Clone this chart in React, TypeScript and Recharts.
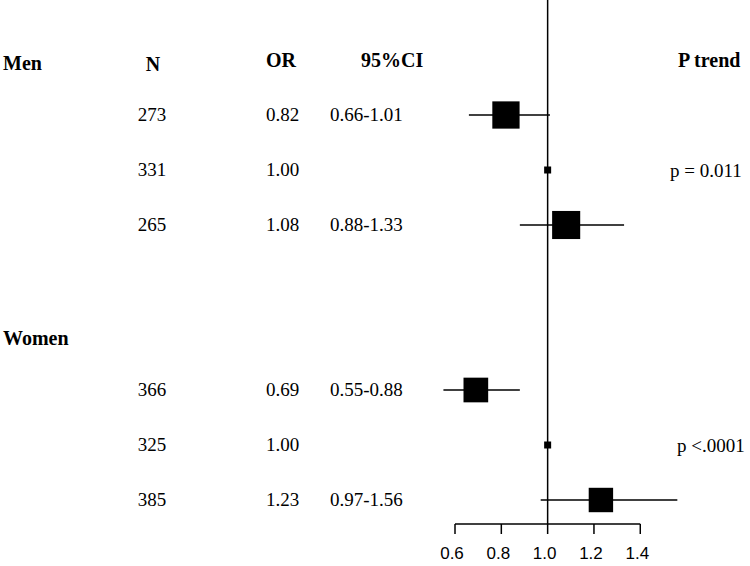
import React from 'react';
import { ScatterChart, Scatter, XAxis, YAxis, ErrorBar, ReferenceLine } from 'recharts';

// ---- data ----
const groups = ['Men', 'Women'];
const nValues = [273, 331, 265, 366, 325, 385];
const orValues = [0.82, 1.0, 1.08, 0.69, 1.0, 1.23];
const ciLow: (number | null)[] = [0.66, null, 0.88, 0.55, null, 0.97];
const ciHigh: (number | null)[] = [1.01, null, 1.33, 0.88, null, 1.56];
const pTrend = ['p = 0.011', 'p <.0001'];
const headers = ['N', 'OR', '95%CI', 'P trend'];
const xTicks = [0.6, 0.8, 1.0, 1.2, 1.4];

// ---- layout ----
const W = 750;
const H = 566;
const ROWS_PER_GROUP = 3;
const GROUP_STRIDE = 5;
const Y_MIN = -60 / 55;
const Y_MAX = 464 / 55;
const X_MIN = 0.6 - 455 / 231.6;
const X_MAX = 0.6 + 295 / 231.6;
const BOX_K = 11.6;
const REF_BOX = 7;
const SERIF = '"Liberation Serif", "Times New Roman", serif';
const SANS = '"Liberation Sans", Arial, sans-serif';

const rows = orValues.map((or, i) => {
  const g = Math.floor(i / ROWS_PER_GROUP);
  const k = i % ROWS_PER_GROUP;
  const lo = ciLow[i];
  const hi = ciHigh[i];
  return {
    x: or,
    y: g * GROUP_STRIDE + 1 + k,
    n: nValues[i],
    or,
    lo,
    hi,
    err: lo != null && hi != null ? [or - lo, hi - or] : [0, 0],
    ci: lo != null && hi != null ? `${lo.toFixed(2)}-${hi.toFixed(2)}` : '',
    box: lo != null && hi != null ? BOX_K / Math.log(hi / lo) : REF_BOX,
  };
});

const groupRows = groups.map((name, g) => ({ x: 1, y: g * GROUP_STRIDE, name, g }));
const pRows = pTrend.map((p, g) => ({ x: 1, y: g * GROUP_STRIDE + 2, p }));

const Box = (props: any) => {
  const { cx, cy, payload } = props;
  if (cx == null || cy == null) return null;
  const s = payload.box;
  return <rect x={cx - s / 2} y={cy - s / 2} width={s} height={s} fill="#000" />;
};

const RowText = (props: any) => {
  const { cy, payload } = props;
  if (cy == null) return null;
  const base = cy + 6;
  return (
    <g fontFamily={SERIF} fontSize={19} fill="#000">
      <text x={152} y={base} textAnchor="middle">{payload.n}</text>
      <text x={266} y={base}>{payload.or.toFixed(2)}</text>
      {payload.ci && <text x={330} y={base}>{payload.ci}</text>}
    </g>
  );
};

const GroupText = (props: any) => {
  const { cy, payload } = props;
  if (cy == null) return null;
  return (
    <g fontFamily={SERIF} fill="#000" fontWeight="bold" fontSize={20}>
      <text x={3} y={cy + 10}>{payload.name}</text>
      {payload.g === 0 && (
        <>
          <text x={153} y={cy + 11} textAnchor="middle">{headers[0]}</text>
          <text x={266} y={cy + 7}>{headers[1]}</text>
          <text x={361} y={cy + 7}>{headers[2]}</text>
          <text x={678} y={cy + 7}>{headers[3]}</text>
        </>
      )}
    </g>
  );
};

const PText = (props: any) => {
  const { cy, payload } = props;
  if (cy == null) return null;
  return (
    <text x={payload.p.startsWith('p =') ? 670 : 677} y={cy + 7} fontFamily={SERIF} fontSize={19} fill="#000">
      {payload.p}
    </text>
  );
};

export default function App() {
  return (
    <div style={{ position: 'absolute', left: 0, top: 0, width: W, height: H, background: '#fff' }}>
      <ScatterChart width={W} height={H} margin={{ top: 0, right: 0, bottom: 0, left: 0 }}>
        <XAxis
          type="number"
          dataKey="x"
          domain={[X_MIN, X_MAX]}
          allowDataOverflow
          ticks={xTicks}
          tickFormatter={(v: number) => v.toFixed(1)}
          axisLine={false}
          tickLine={{ stroke: '#000', strokeWidth: 1.5 }}
          tickSize={10}
          tickMargin={13}
          height={42}
          tick={{ fill: '#000', fontSize: 17, fontFamily: SANS, dx: -3 }}
        />
        <YAxis type="number" dataKey="y" domain={[Y_MIN, Y_MAX]} reversed allowDataOverflow hide />
        <ReferenceLine x={1} stroke="#000" strokeWidth={1.5} ifOverflow="visible" />
        <ReferenceLine
          segment={[
            { x: xTicks[0], y: Y_MAX },
            { x: xTicks[xTicks.length - 1], y: Y_MAX },
          ]}
          stroke="#000"
          strokeWidth={1.5}
          ifOverflow="visible"
        />
        <Scatter data={rows} shape={Box} isAnimationActive={false}>
          <ErrorBar dataKey="err" direction="x" width={0} stroke="#000" strokeWidth={1.5} isAnimationActive={false} />
        </Scatter>
        <Scatter data={rows} shape={RowText} isAnimationActive={false} />
        <Scatter data={groupRows} shape={GroupText} isAnimationActive={false} />
        <Scatter data={pRows} shape={PText} isAnimationActive={false} />
      </ScatterChart>
    </div>
  );
}
